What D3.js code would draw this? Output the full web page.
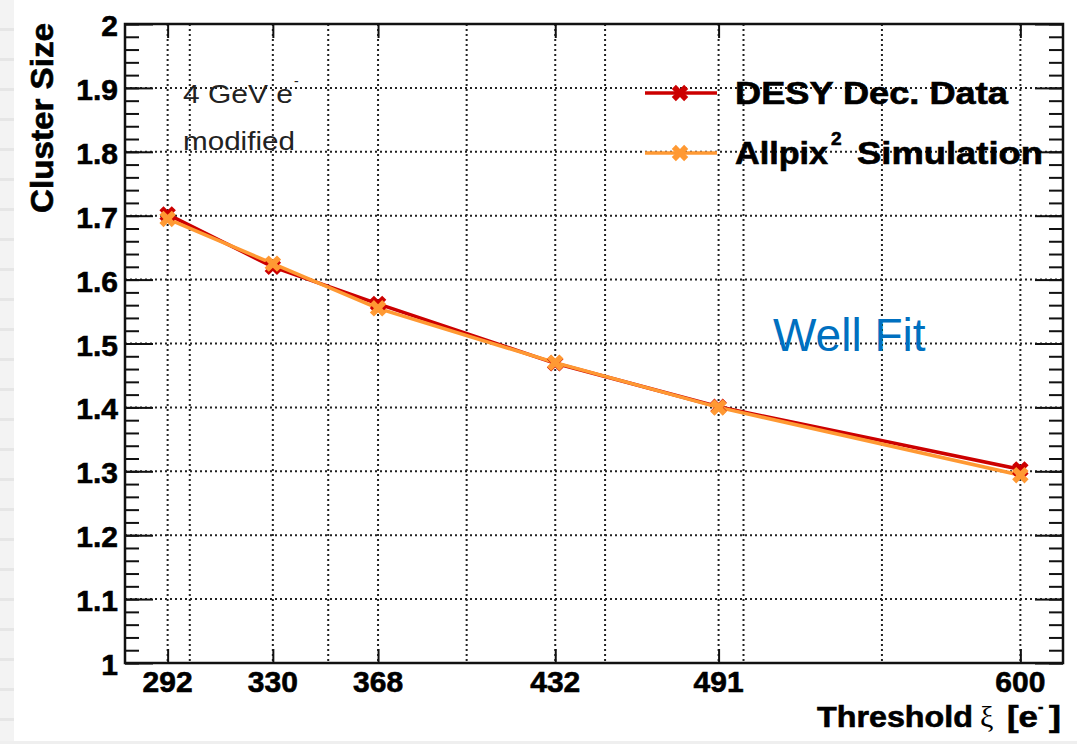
<!DOCTYPE html>
<html lang="en">
<head>
	<title>Cluster Size vs Threshold</title>
	<meta charset="utf-8">
	<script src="https://d3js.org/d3.v7.min.js" charset="utf-8"></script>
	<style>
	body { margin: 0; background: #fff; }
	text { font-family: "Liberation Sans", Arial, Helvetica, sans-serif; }
	.bold { font-weight: bold; stroke: #000; stroke-width: 0.6; }
	.grid line { stroke: #222; stroke-width: 2; stroke-dasharray: 2,3; }
	.frame { fill: none; stroke: #111; stroke-width: 2.5; }
	.ticks line { stroke: #111; stroke-width: 2; }
	.ticks path { display: none; }
	</style>
</head>
<body>
	<script>
	// values
	var thresholds = [292, 330, 368, 432, 491, 600];
	var desyData = [1.702, 1.620, 1.562, 1.469, 1.401, 1.303];
	var allpixSim = [1.695, 1.625, 1.555, 1.470, 1.400, 1.294];

	// grid of the original numeric axis
	var xGridExtra = [300, 350, 400, 450, 500, 550];
	var yTicks = [1, 1.1, 1.2, 1.3, 1.4, 1.5, 1.6, 1.7, 1.8, 1.9, 2];
	var yLabels = ['1', '1.1', '1.2', '1.3', '1.4', '1.5', '1.6', '1.7', '1.8', '1.9', '2'];
	var yMinor = d3.range(0, 51).map(function(i) { return 1 + i * 0.02; });

	var width = 1077;
	var height = 744;
	var plotL = 125, plotR = 1063, plotT = 24, plotB = 663;

	var svg = d3.select('body')
	.append('svg')
	.attr('width', width)
	.attr('height', height);

	// text stretched horizontally to the width it has in the picture
	function label(x, y, str, size, w, cls) {
		var t = svg.append('text')
		.attr('font-size', size)
		.attr('class', cls || null)
		.text(str);
		var s = w ? w / t.node().getComputedTextLength() : 1;
		t.attr('transform', 'translate(' + x + ',' + y + ') scale(' + s + ',1)');
		return t;
	}

	// slide background bits
	svg.append('rect').attr('x', 0).attr('y', 0).attr('width', 14).attr('height', height).attr('fill', '#f3f3f3');
	svg.append('g').selectAll('rect')
	.data(d3.range(0, 25))
	.enter()
	.append('rect')
	.attr('x', 0).attr('width', 14)
	.attr('y', function(d) { return d * 30 + 28; })
	.attr('height', 3)
	.attr('fill', '#e6e6e6');
	svg.append('rect').attr('x', 0).attr('y', 741).attr('width', width).attr('height', 3).attr('fill', '#efefef');

	var x = d3.scaleLinear()
	.domain([276.6, 615.4])
	.range([plotL, plotR]);

	var y = d3.scaleLinear()
	.domain([1, 2])
	.range([plotB, plotT]);

	// grid
	var grid = svg.append('g').attr('class', 'grid');
	grid.selectAll('line.v')
	.data(thresholds.concat(xGridExtra))
	.enter()
	.append('line')
	.attr('class', 'v')
	.attr('x1', function(d) { return x(d); })
	.attr('x2', function(d) { return x(d); })
	.attr('y1', plotT)
	.attr('y2', plotB);
	grid.selectAll('line.h')
	.data(yTicks.slice(1, -1))
	.enter()
	.append('line')
	.attr('class', 'h')
	.attr('x1', plotL)
	.attr('x2', plotR)
	.attr('y1', function(d) { return y(d); })
	.attr('y2', function(d) { return y(d); });

	// ticks, pointing into the frame
	svg.append('g').attr('class', 'ticks')
	.attr('transform', 'translate(' + plotL + ',0)')
	.call(d3.axisRight(y).tickValues(yTicks).tickSize(28).tickFormat(''));
	svg.append('g').attr('class', 'ticks')
	.attr('transform', 'translate(' + plotL + ',0)')
	.call(d3.axisRight(y).tickValues(yMinor).tickSize(14).tickFormat(''));
	svg.append('g').attr('class', 'ticks')
	.attr('transform', 'translate(' + plotR + ',0)')
	.call(d3.axisLeft(y).tickValues(yTicks).tickSize(28).tickFormat(''));
	svg.append('g').attr('class', 'ticks')
	.attr('transform', 'translate(' + plotR + ',0)')
	.call(d3.axisLeft(y).tickValues(yMinor).tickSize(14).tickFormat(''));
	svg.append('g').attr('class', 'ticks')
	.attr('transform', 'translate(0,' + plotB + ')')
	.call(d3.axisTop(x).tickValues(thresholds).tickSize(14).tickFormat(''));
	svg.append('g').attr('class', 'ticks')
	.attr('transform', 'translate(0,' + plotT + ')')
	.call(d3.axisBottom(x).tickValues(thresholds).tickSize(14).tickFormat(''));

	svg.append('rect')
	.attr('class', 'frame')
	.attr('x', plotL).attr('y', plotT)
	.attr('width', plotR - plotL).attr('height', plotB - plotT);

	// tick labels
	svg.append('g').selectAll('text')
	.data(yTicks)
	.enter()
	.append('text')
	.attr('class', 'bold')
	.attr('x', 118)
	.attr('y', function(d) { return y(d) + 12; })
	.attr('text-anchor', 'end')
	.attr('font-size', 30)
	.text(function(d, i) { return yLabels[i]; });

	svg.append('g').selectAll('text')
	.data(thresholds)
	.enter()
	.append('text')
	.attr('class', 'bold')
	.attr('x', function(d) { return x(d); })
	.attr('y', 692)
	.attr('text-anchor', 'middle')
	.attr('font-size', 30)
	.text(function(d) { return d; });

	// axis titles
	var ytitle = svg.append('text')
	.attr('class', 'bold')
	.attr('text-anchor', 'end')
	.attr('font-size', 31)
	.text('Cluster Size');
	ytitle.attr('transform', 'translate(53,23) rotate(-90) scale(' + (190 / ytitle.node().getComputedTextLength()) + ',1)');

	label(817, 727, 'Threshold', 30, 156, 'bold');
	label(980, 727, 'ξ', 30).style('font-family', '"Liberation Serif", serif');
	label(1007, 727, '[e', 30, 31, 'bold');
	label(1038, 712, '-', 16, 0, 'bold');
	label(1049, 727, ']', 30, 12, 'bold');

	// series
	var series = [
		{ name: 'DESY Dec. Data', values: desyData, color: '#cc0000' },
		{ name: 'Allpix2 Simulation', values: allpixSim, color: '#ff9933' }
	];

	var line = d3.line()
	.x(function(d, i) { return x(thresholds[i]); })
	.y(function(d) { return y(d); });

	var cross = d3.symbol().type(d3.symbolCross).size(170);

	series.forEach(function(s) {
		svg.append('path')
		.datum(s.values)
		.attr('fill', 'none')
		.attr('stroke', s.color)
		.attr('stroke-width', 3.5)
		.attr('d', line);
	});
	series.forEach(function(s) {
		svg.append('g').selectAll('path')
		.data(s.values)
		.enter()
		.append('path')
		.attr('fill', s.color)
		.attr('d', cross)
		.attr('transform', function(d, i) {
			return 'translate(' + x(thresholds[i]) + ',' + y(d) + ') rotate(45)';
		});
	});

	// legend
	var legendY = [93, 153];
	series.forEach(function(s, i) {
		svg.append('line')
		.attr('x1', 645).attr('x2', 717)
		.attr('y1', legendY[i]).attr('y2', legendY[i])
		.attr('stroke', s.color).attr('stroke-width', 3.5);
		svg.append('path')
		.attr('fill', s.color)
		.attr('d', cross)
		.attr('transform', 'translate(680,' + legendY[i] + ') rotate(45)');
	});
	label(735, 104, 'DESY Dec. Data', 31, 273, 'bold');
	label(735, 164, 'Allpix', 31, 93, 'bold');
	label(831, 145, '2', 19, 0, 'bold');
	label(857, 164, 'Simulation', 31, 186, 'bold');

	// annotations
	label(183, 103, '4 GeV e', 26, 110).attr('fill', '#222');
	label(294, 86, '-', 14).attr('fill', '#222');
	label(183, 150, 'modified', 26, 112).attr('fill', '#222');

	label(773, 351, 'Well Fit', 46).attr('fill', '#0070c0');
	</script>
</body>
</html>
